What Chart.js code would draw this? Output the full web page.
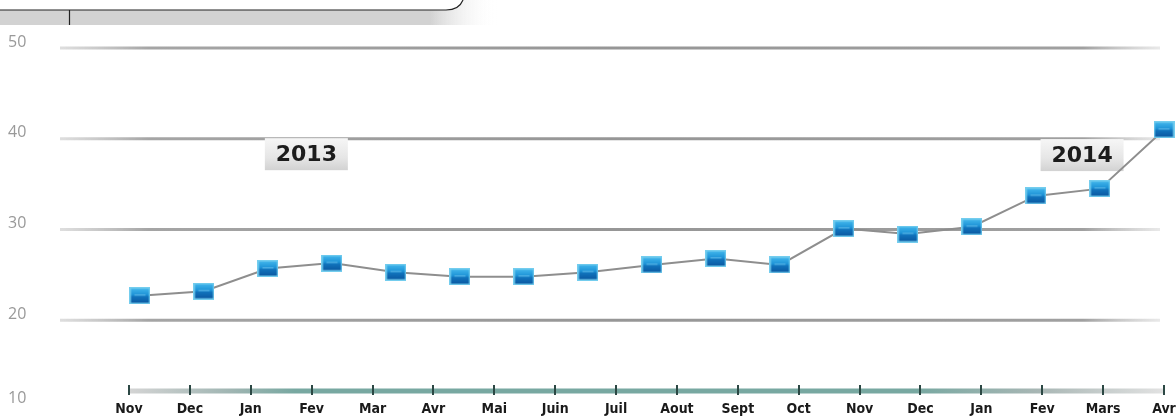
<!DOCTYPE html>
<html>
<head>
<meta charset="utf-8">
<script src="https://cdn.jsdelivr.net/npm/chart.js@4/dist/chart.umd.min.js"></script>
<style>
    html, body { margin: 0; padding: 0; background: #fff; }
    #wrap { position: relative; width: 1176px; height: 416px; }
</style>
</head>
<body>
<div id="wrap"><canvas id="chart" width="1176" height="416"></canvas></div>
<script>
// -----------------------------
// Données
// -----------------------------
const monthLabels = ["Nov", "Dec", "Jan", "Fev", "Mar", "Avr", "Mai", "Juin", "Juil",
                     "Aout", "Sept", "Oct", "Nov", "Dec", "Jan", "Fev", "Mars", "Avr"];
const values = [22.7, 23.2, 25.7, 26.3, 25.3, 24.8, 24.8, 25.3, 26.1,
                26.8, 26.1, 30.1, 29.5, 30.3, 33.7, 34.5, 41.0];
const yTicks = [10, 20, 30, 40, 50];
const yearLabels = ["2013", "2014"];

// valeur de l'axe Y où se trouve la barre des mois
const AXIS_VALUE = 12.87;


// -----------------------------
// Marqueur (petit carré bleu)
// -----------------------------
function makeMarker() {
    const c = document.createElement("canvas");
    c.width = 21;
    c.height = 17;
    const g = c.getContext("2d");
    g.fillStyle = "#74cdee";
    g.fillRect(0, 0, 21, 17);
    const grad = g.createLinearGradient(0, 1, 0, 16);
    grad.addColorStop(0, "#42b6ec");
    grad.addColorStop(0.45, "#1d92d6");
    grad.addColorStop(0.55, "#1174bd");
    grad.addColorStop(1, "#0b57a0");
    g.fillStyle = grad;
    g.fillRect(1.5, 1.5, 18, 14);
    g.fillStyle = "rgba(120,200,240,0.5)";
    g.fillRect(5, 7, 11, 1.5);
    return c;
}


// -----------------------------
// Décor : bandeau, grille, barre des mois
// -----------------------------
const decorPlugin = {
    id: "decor",
    beforeDraw(chart) {
        const ctx = chart.ctx;
        const y = chart.scales.y;
        const x = chart.scales.x;
        ctx.save();

        // bandeau gris en haut
        const gg = ctx.createLinearGradient(430, 0, 498, 0);
        gg.addColorStop(0, "#d2d2d2");
        gg.addColorStop(1, "rgba(255,255,255,0)");
        ctx.fillStyle = gg;
        ctx.fillRect(0, 0, 498, 25);

        ctx.beginPath();
        ctx.moveTo(0, -1);
        ctx.lineTo(463, -1);
        ctx.lineTo(463, 0);
        ctx.quadraticCurveTo(459, 10, 446, 10);
        ctx.lineTo(0, 10);
        ctx.closePath();
        ctx.fillStyle = "#ffffff";
        ctx.fill();

        ctx.beginPath();
        ctx.moveTo(0, 10);
        ctx.lineTo(446, 10);
        ctx.quadraticCurveTo(459, 10, 463, 0);
        ctx.moveTo(69.5, 10);
        ctx.lineTo(69.5, 25);
        ctx.strokeStyle = "#222";
        ctx.lineWidth = 1.2;
        ctx.stroke();

        // lignes horizontales + libellés Y
        ctx.font = "16px 'Open Sans', sans-serif";
        ctx.textBaseline = "middle";
        ctx.textAlign = "left";
        yTicks.forEach(v => {
            const py = y.getPixelForValue(v);
            if (v > yTicks[0]) {
                const lg = ctx.createLinearGradient(60, 0, 1160, 0);
                lg.addColorStop(0, "rgba(200,200,200,0.6)");
                lg.addColorStop(0.08, "#a5a5a5");
                lg.addColorStop(0.5, "#969696");
                lg.addColorStop(0.93, "#a0a0a0");
                lg.addColorStop(1, "rgba(210,210,210,0.5)");
                ctx.strokeStyle = lg;
                ctx.lineWidth = 3;
                ctx.beginPath();
                ctx.moveTo(60, py);
                ctx.lineTo(1160, py);
                ctx.stroke();
            }
            ctx.fillStyle = "#999999";
            ctx.fillText(String(v), 8, Math.min(py - 6, 398));
        });

        // barre des mois (teal)
        const by = y.getPixelForValue(AXIS_VALUE) + 6;
        const bg = ctx.createLinearGradient(x.left, 0, x.right, 0);
        bg.addColorStop(0, "#d4d4d4");
        bg.addColorStop(0.1, "#9fb5b2");
        bg.addColorStop(0.16, "#78a8a1");
        bg.addColorStop(0.76, "#78a8a1");
        bg.addColorStop(0.88, "#a9b7b5");
        bg.addColorStop(1, "#e2e2e2");
        ctx.strokeStyle = bg;
        ctx.lineWidth = 5;
        ctx.beginPath();
        ctx.moveTo(x.left, by);
        ctx.lineTo(x.right, by);
        ctx.stroke();

        ctx.restore();
    },
    beforeDatasetsDraw(chart, args, opts) {
        const ctx = chart.ctx;
        const xp = chart.scales.xp;
        const y = chart.scales.y;
        ctx.save();
        ctx.font = "bold 22px 'DejaVu Sans', sans-serif";
        ctx.textAlign = "center";
        ctx.textBaseline = "middle";
        yearLabels.forEach((t, i) => {
            const a = opts.anchors[i];
            const cx = xp.getPixelForValue(a.x);
            const cy = y.getPixelForValue(a.y);
            const w = 83, h = 32;
            const g = ctx.createLinearGradient(0, cy - h / 2, 0, cy + h / 2);
            g.addColorStop(0, "#f6f6f6");
            g.addColorStop(0.6, "#e6e6e6");
            g.addColorStop(1, "#d2d2d2");
            ctx.fillStyle = g;
            ctx.fillRect(cx - w / 2, cy - h / 2, w, h);
            ctx.fillStyle = "#1c1c1c";
            ctx.fillText(t, cx, cy + 1);
        });
        ctx.restore();
    }
};


// -----------------------------
// GRAPHIQUE
// -----------------------------
new Chart(document.getElementById("chart"), {
    type: "line",
    data: {
        labels: monthLabels,
        datasets: [{
            data: values.map((v, i) => ({ x: i, y: v })),
            xAxisID: "xp",
            yAxisID: "y",
            borderColor: "#8e8e8e",
            borderWidth: 2,
            tension: 0,
            pointStyle: makeMarker(),
            pointRadius: 10,
            clip: false
        }]
    },
    options: {
        responsive: false,
        animation: false,
        events: [],
        layout: { padding: { left: 129, right: 9, top: 48, bottom: 5 } },
        plugins: {
            legend: { display: false },
            tooltip: { enabled: false },
            decor: {
                anchors: [{ x: 2.6, y: 38.3 }, { x: 14.72, y: 38.2 }]
            }
        },
        scales: {
            x: {
                type: "category",
                position: { y: AXIS_VALUE },
                offset: false,
                border: { display: false },
                // le dernier mois peut déborder du cadre, comme sur l'original
                afterFit(scale) {
                    scale.paddingLeft = 0;
                    scale.paddingRight = 0;
                },
                grid: {
                    drawOnChartArea: false,
                    drawTicks: true,
                    tickLength: 10,
                    color: "#2c4844",
                    lineWidth: 2
                },
                ticks: {
                    autoSkip: false,
                    maxRotation: 0,
                    padding: 6,
                    color: "#1a1a1a",
                    font: {
                        family: "'DejaVu Sans Condensed', 'Liberation Sans Narrow', sans-serif",
                        weight: "bold",
                        size: 14
                    }
                }
            },
            xp: {
                type: "linear",
                display: false,
                min: -0.171,
                max: 16
            },
            y: {
                type: "linear",
                display: false,
                // la zone du graphique s'arrête juste au-dessus de 10
                min: 10.77,
                max: 50
            }
        }
    },
    plugins: [decorPlugin]
});
</script>
</body>
</html>
